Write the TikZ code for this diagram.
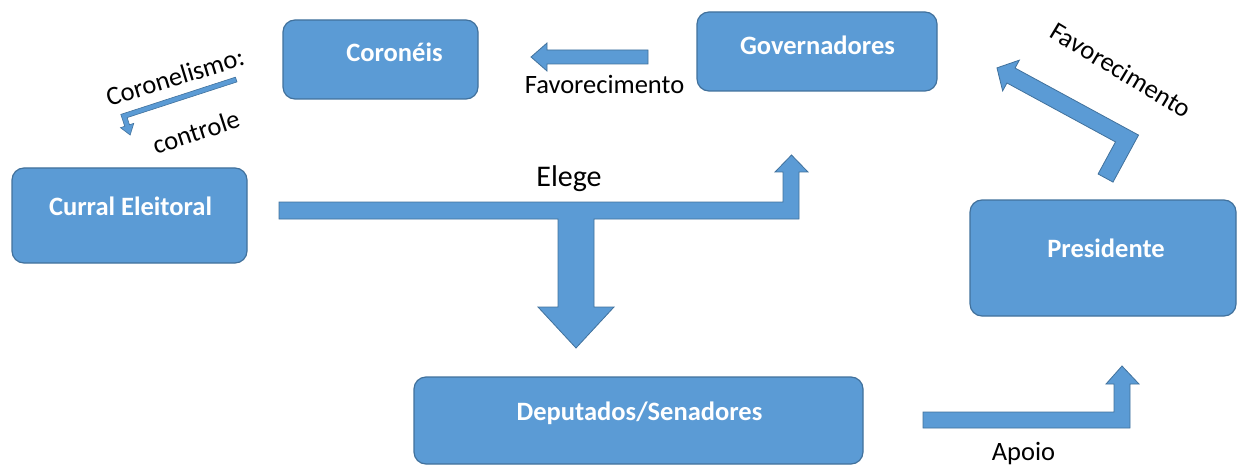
\documentclass[tikz,border=0pt]{standalone}
\usepackage{fontspec}
\setmainfont{Carlito}
\definecolor{boxblue}{HTML}{5B9BD5}
\definecolor{edgeblue}{HTML}{41719C}
\begin{document}
\begin{tikzpicture}[x=1pt,y=-1pt]
\tikzset{
  box/.style={draw=edgeblue, line width=1.2pt, fill=boxblue, rounded corners=12pt, inner sep=0pt},
  boxtext/.style={text=white, font=\fontsize{26.5}{31}\selectfont\bfseries, anchor=base, inner sep=0pt},
  lbl/.style={text=black, font=\fontsize{26.5}{31}\selectfont, inner sep=0pt},
  blockarrow/.style={draw=edgeblue, line width=0.8pt, fill=boxblue, line join=miter},
}
\useasboundingbox (0,0) rectangle (1241,465);

% boxes
\node[box, minimum width=195pt, minimum height=79pt] (cor) at (380.5,59.5) {};
\node[box, minimum width=240pt, minimum height=79pt] (gov) at (817,51.5) {};
\node[box, minimum width=235pt, minimum height=95pt] (cur) at (129.5,215.5) {};
\node[box, minimum width=266pt, minimum height=116pt] (pre) at (1103,258) {};
\node[box, minimum width=449pt, minimum height=87pt] (dep) at (638.5,420.5) {};

\node[boxtext] (corT) at (394.5,62) {Coronéis};
\node[boxtext] (govT) at (817.5,55) {Governadores};
\node[boxtext] (curT) at (130.5,215) {Curral Eleitoral};
\node[boxtext] (preT) at (1106,257) {Presidente};
\node[boxtext] (depT) at (639.5,420) {Deputados/Senadores};

% Elege arrow (T-shaped)
\draw[blockarrow] (279,202) -- (783,202) -- (783,172) -- (775,172) -- (791.5,155)
  -- (808,172) -- (799,172) -- (799,219) -- (594,219) -- (594,307) -- (614,307)
  -- (576,348) -- (538,307) -- (558,307) -- (558,219) -- (279,219) -- cycle;
\node[lbl, anchor=base, font=\fontsize{30}{34}\selectfont] (elege) at (569,186) {Elege};

% Favorecimento (middle) arrow
\draw[blockarrow] (648,50) -- (547,50) -- (547,43) -- (531,57) -- (547,71) -- (547,64) -- (648,64) -- cycle;
\node[lbl, anchor=base] (fav1) at (604.5,94) {Favorecimento};

% Apoio arrow
\draw[blockarrow] (923,412) -- (1114,412) -- (1114,384) -- (1106,384) -- (1122,366)
  -- (1139,384) -- (1130,384) -- (1130,428) -- (923,428) -- cycle;
\node[lbl, anchor=base] (apoio) at (1023.5,460) {Apoio};

% Favorecimento (right) bent arrow
\begin{scope}[shift={(1127,138.5)}, rotate=-28.5]
\draw[blockarrow] (8.5,45) -- (8.5,-8.5) -- (-132,-8.5) -- (-132,-17.5) -- (-148,0)
  -- (-132,17.5) -- (-132,8.5) -- (-8.5,8.5) -- (-8.5,45) -- cycle;
\end{scope}
\node[lbl, rotate=-31] (fav2) at (1121,70) {Favorecimento};

% Coronelismo small bent arrow
\begin{scope}[shift={(124,116)}, rotate=18]
\draw[blockarrow, line width=0.6pt] (118,-2.5) -- (-2.5,-2.5) -- (-2.5,10) -- (-7,10) -- (0,20)
  -- (7,10) -- (2.5,10) -- (2.5,2.5) -- (118,2.5) -- cycle;
\end{scope}
\node[lbl, rotate=17] (coron) at (175,77) {Coronelismo:};
\node[lbl, rotate=18] (contr) at (196,132) {controle};
\end{tikzpicture}
\end{document}
